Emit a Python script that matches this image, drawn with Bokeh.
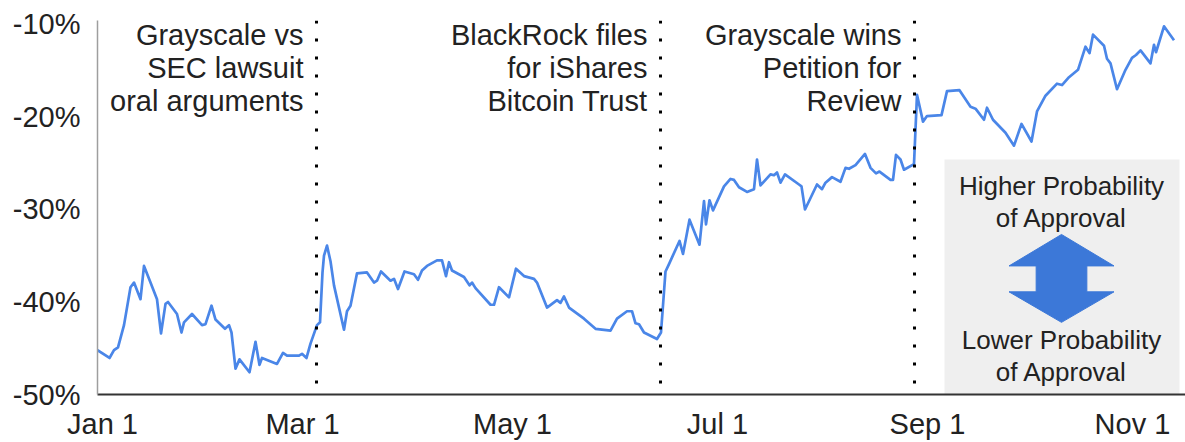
from bokeh.plotting import figure
from bokeh.models import Span, Label, BoxAnnotation, FixedTicker
from bokeh.embed import file_html
from bokeh.resources import INLINE

# x: trading days since the start of 2023, y: GBTC discount to NAV (%)
day = [0, 2.4, 3.3, 4.1, 5.3, 6.6, 7.3, 8.6, 9.3, 10.6, 11.9, 12.7, 13.6, 14.1, 15.9, 16.8, 17.3, 18.9, 20.9, 21.6,
       22.8, 23.6, 25.5, 26.3, 26.8, 27.6, 28.4, 30.4, 31.6, 32.4, 32.9, 35.9, 37.1, 37.9, 40.3, 40.9, 41.8, 42.6, 43.9,
       44.5, 45.0, 45.3, 45.9, 46.6, 47.3, 49.3, 49.9, 50.6, 51.9, 53.9, 55.3, 55.9, 56.7, 58.6, 59.3, 60.1, 61.4, 63.3, 64.1,
       64.9, 65.9, 67.9, 68.9, 69.7, 70.3, 70.9, 73.3, 74.4, 74.9, 75.6, 78.6, 79.3, 80.3, 82.3,
       83.7, 85.3, 87.3, 87.9, 89.9, 91.9, 92.6, 93.3, 94.3, 97.3, 99.6, 102.6, 103.9, 105.9, 106.9, 107.6, 108.3, 109.3, 111.9, 112.7,
       113.6, 114.3, 116.4, 117.1, 118.4, 120.4, 121.3, 121.7, 122.4, 123.1, 125.3, 126.6, 127.3, 128.3, 129.9, 131.3, 131.9, 132.6, 134.6, 135.3,
       135.9, 136.6, 137.5, 140.3, 140.8, 141.5, 143.9, 144.9, 145.6, 146.9, 148.6, 149.6, 150.3, 151.6, 153.5, 154.6, 155.7, 156.4, 158.6, 159.1,
       159.7, 160.6, 161.3, 163.3,
       163.9, 165.1, 165.9, 168.8, 169.9, 172.4, 174.6, 175.6, 177.3, 177.9, 179.1, 181.6, 183.3, 184.8, 186.8, 187.9, 189.6, 191.9, 192.9, 194.3,
       196.1, 197.6, 198.4, 199.1, 201.3, 201.9, 202.6, 203.9, 205.6, 206.9, 207.7, 208.6, 210.6, 211.3, 211.7, 213.3, 215.3]
discount = [-45.2, -46.05, -45.2, -44.9, -42.5, -38.4, -37.9, -39.7, -36.1, -37.9, -39.7, -43.4, -40.2, -40.0, -41.3, -43.3, -42.2, -41.3, -42.5, -42.4,
            -40.4, -41.9, -42.9, -42.5, -43.3, -47.2, -46.2, -47.6, -44.3, -46.8, -46.05, -46.7, -45.5, -45.8, -45.8, -45.6, -46.05, -44.5, -42.5,
            -42.2, -36.8, -35.0, -33.9, -35.6, -38.2, -43.0, -41.0, -40.4, -36.9, -36.8, -37.9, -37.7, -36.7, -37.7, -37.5, -38.6, -36.7, -37.0, -37.6,
            -36.6, -36.1, -35.5, -35.5, -37.2, -35.7, -36.6, -37.3, -38.2, -37.9, -38.5, -40.3, -40.3, -38.4, -39.5,
            -36.4, -37.2, -37.5, -37.9, -40.6, -39.8, -40.1, -39.4, -40.6, -41.8, -42.9, -43.1, -41.8, -41.0, -41.0, -42.3, -42.4, -43.3, -44.0, -43.3,
            -36.7, -35.9, -33.4, -34.8, -31.1, -33.8, -29.1, -31.6, -29.0, -30.1, -27.5, -26.7, -26.8, -27.6, -28.1, -27.8, -24.6, -27.4, -26.2, -26.3,
            -26.0, -27.1, -26.2, -27.3, -27.5, -30.0, -27.3, -27.8, -27.1, -26.5, -27.0, -25.5, -25.6, -25.2, -24.0, -25.5, -26.1, -25.9, -26.8, -26.8,
            -24.1, -24.6, -25.7, -25.1,
            -17.6, -20.5, -19.9, -19.8, -17.2, -17.1, -18.9, -19.1, -20.3, -19.0, -20.3, -21.7, -23.1, -20.75, -22.65, -19.4, -17.7, -16.4, -16.55, -15.7,
            -14.9, -12.4, -13.1, -11.1, -12.3, -13.7, -14.2, -17.0, -14.9, -13.6, -13.3, -12.8, -14.2, -12.2, -13.0, -10.2, -11.7]

x_tick_days = [1, 41, 83, 124, 166, 207]
x_tick_labels = ["Jan 1", "Mar 1", "May 1", "Jul 1", "Sep 1", "Nov 1"]
y_ticks = [-50, -40, -30, -20, -10]
y_tick_labels = ["-50%", "-40%", "-30%", "-20%", "-10%"]

event_days = [43.8, 112.6, 163.4]
event_labels = ["Grayscale vs\nSEC lawsuit\noral arguments",
                "BlackRock files\nfor iShares\nBitcoin Trust",
                "Grayscale wins\nPetition for\nReview"]
note_top = "Higher Probability\nof Approval"
note_bottom = "Lower Probability\nof Approval"

FONT = "Liberation Sans"
TXT = "#222222"

p = figure(width=1185, height=442, x_range=(0, 217.6), y_range=(-50, -9.57),
           output_backend="svg", toolbar_location=None,
           min_border_left=97, min_border_right=0, min_border_top=20, min_border_bottom=46)
p.outline_line_color = None
p.grid.visible = False
p.background_fill_color = "white"

# note box with double arrow
p.add_layout(BoxAnnotation(left=169.4, right=216.4, bottom=-50, top=-24.6,
                           fill_color="#efefef", fill_alpha=1, line_color=None, level="underlay"))
cx, hw, sw = 192.8, 10.5, 5.07
ya, yb1, yb2, yc = -32.7, -36.1, -38.9, -42.2
p.patch([cx, cx + hw, cx + sw, cx + sw, cx + hw, cx, cx - hw, cx - sw, cx - sw, cx - hw],
        [ya, yb1, yb1, yb2, yb2, yc, yb2, yb2, yb1, yb1],
        fill_color="#3c78d8", line_color="#3c78d8", line_width=1)
for txt, yy in [(note_top, -29.18), (note_bottom, -45.86)]:
    p.add_layout(Label(x=cx, y=yy, text=txt, text_align="center", text_baseline="middle",
                       text_font=FONT, text_font_size="26px", text_color=TXT, text_line_height=1.05))

# event lines and labels
for d, txt in zip(event_days, event_labels):
    p.add_layout(Span(location=d, dimension="height", line_color="black",
                      line_width=3, line_dash="3 15"))
    p.add_layout(Label(x=d, y=-14.73, x_offset=-13, text=txt, text_align="right",
                       text_baseline="middle", text_font=FONT, text_font_size="29px",
                       text_color=TXT, text_line_height=1.04))

p.line(day, discount, line_color="#4a86e8", line_width=2.7, line_join="round")

# axes
p.xaxis.ticker = FixedTicker(ticks=x_tick_days)
p.xaxis.major_label_overrides = dict(zip(x_tick_days, x_tick_labels))
p.yaxis.ticker = FixedTicker(ticks=y_ticks)
p.yaxis.major_label_overrides = dict(zip(y_ticks, y_tick_labels))
for ax in (p.xaxis[0], p.yaxis[0]):
    ax.major_tick_line_color = None
    ax.minor_tick_line_color = None
    ax.major_label_text_font = FONT
    ax.major_label_text_font_size = "29px"
    ax.major_label_text_color = TXT
p.xaxis.axis_line_color = "#333333"
p.xaxis.axis_line_width = 2
p.xaxis.major_label_standoff = 7
p.yaxis.axis_line_color = "#9e9e9e"
p.yaxis.axis_line_width = 1.5
p.yaxis.major_label_standoff = 11

open("out.html", "w").write(file_html(p, INLINE))
